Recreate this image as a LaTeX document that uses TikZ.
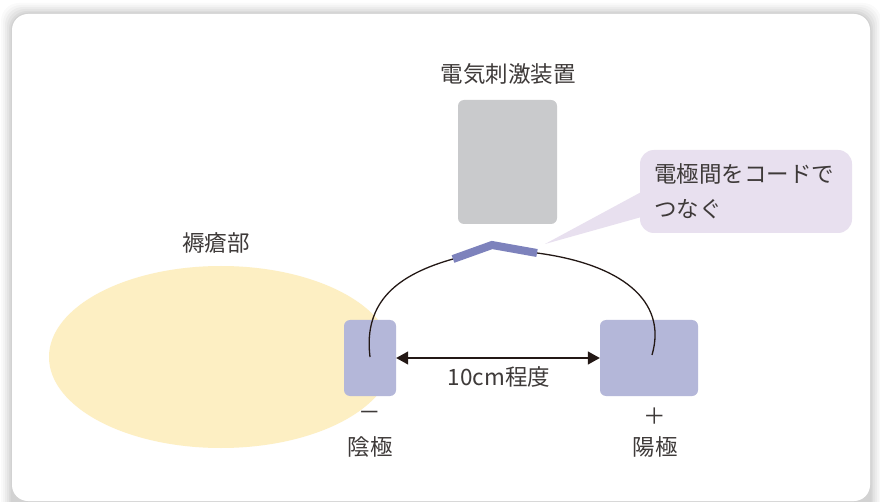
\documentclass[tikz,border=0pt]{standalone}
\usepackage{fontspec}
\newfontfamily\cjk{Noto Sans CJK JP}
\usetikzlibrary{arrows.meta,shapes.geometric}
\definecolor{txt}{HTML}{3E3A39}
\definecolor{ink}{HTML}{231815}
\definecolor{sore}{HTML}{FDEFC3}
\definecolor{elec}{HTML}{B4B7D9}
\definecolor{dev}{HTML}{C9CACC}
\definecolor{cord}{HTML}{7D82BC}
\definecolor{bubble}{HTML}{E8E0EF}
\tikzset{
  lbl/.style={font=\cjk\fontsize{22.5}{27}\selectfont, text=txt, inner sep=0pt},
  elecbox/.style={fill=elec, draw=none, rounded corners=6pt, inner sep=0pt},
  wire/.style={draw=ink, line width=1.3pt},
}
\begin{document}
\begin{tikzpicture}[x=1pt,y=-1pt]
\useasboundingbox (0,0) rectangle (880,502);
% frame shadow
\foreach \d/\o in {11/0.02,9/0.025,7/0.03,5/0.035,3/0.04,1.5/0.045}{
  \fill[black,opacity=\o,rounded corners=18pt] (12-\d,14-\d) rectangle (870+\d,520);
}
\fill[white,rounded corners=16pt] (12,14) rectangle (870,501);
% pressure sore
\node[ellipse, fill=sore, minimum width=344pt, minimum height=182pt, inner sep=0pt] (sore) at (221,357) {};
\node[lbl] (sorelbl) at (216,243) {褥瘡部};
% device
\node[fill=dev, rounded corners=6pt, minimum width=99pt, minimum height=124pt, inner sep=0pt] (dev) at (507.5,162) {};
\node[lbl] (devlbl) at (508,74) {電気刺激装置};
% electrodes
\node[elecbox, minimum width=52pt, minimum height=76pt] (cath) at (370,358) {};
\node[elecbox, minimum width=98pt, minimum height=76pt] (anod) at (649,358) {};
\node[lbl] (minus) at (370,416) {－};
\node[lbl] (cathlbl) at (370,447) {陰極};
\node[lbl] (plus) at (655,416) {＋};
\node[lbl] (anodlbl) at (655,447) {陽極};
% distance arrow
\draw[ink, line width=1.3pt, {Triangle[length=12pt,width=13pt]}-{Triangle[length=12pt,width=13pt]}] (cath.east) -- (anod.west);
\node[lbl] (dist) at (499,377) {10cm程度};
% cord
\coordinate (c1) at (370,357);
\coordinate (c2) at (652,355);
\coordinate (j1) at (453,259);
\coordinate (j2) at (492,245);
\coordinate (j3) at (537,253);
\draw[wire] (c1) .. controls (363,300) and (400,274) .. (j1);
\draw[wire] (j3) .. controls (620,264) and (668,300) .. (c2);
\draw[cord, line width=8pt] (j1) -- (j2) -- (j3);
% callout
\node[fill=bubble, rounded corners=14pt, minimum width=212pt, minimum height=83pt, inner sep=0pt] (call) at (746,191.5) {};
\coordinate (tip) at (545,244);
\fill[bubble] (tip) -- (645,190) -- (645,216) -- cycle;
\node[lbl, anchor=north west, align=left, font=\cjk\fontsize{22.5}{35}\selectfont] (calltxt) at (654,163) {電極間をコードで\\つなぐ};
\end{tikzpicture}
\end{document}
